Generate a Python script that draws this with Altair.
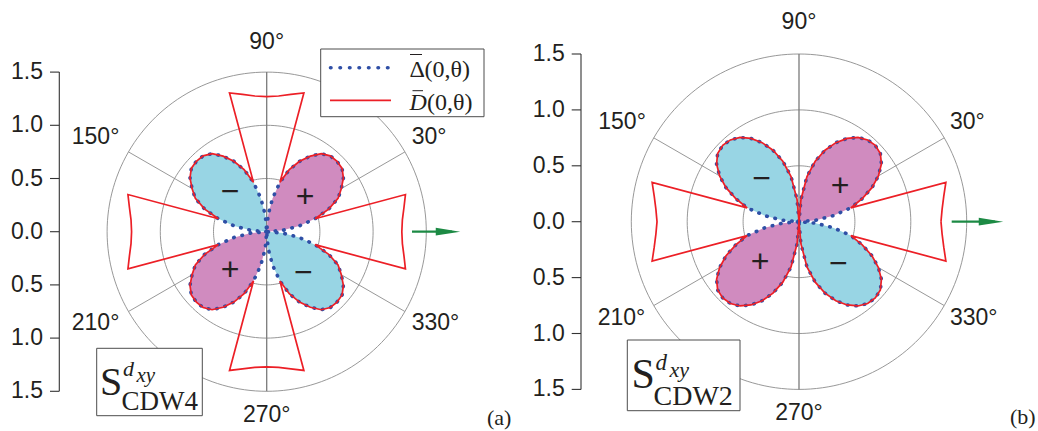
import altair as alt
import pandas as pd

# ---------------- data ----------------
ANGLES_Q1 = [0, 5, 10, 15, 20, 25, 30, 35, 40, 45, 50, 55, 60, 65, 70, 75, 80, 85, 90]
# |Delta(0,theta)| in the first quadrant (other lobes are mirror images)
DELTA_A_Q1 = [0.00, 0.15, 0.31, 0.47, 0.62, 0.74, 0.81, 0.88, 0.925, 0.935,
              0.93, 0.895, 0.82, 0.73, 0.62, 0.48, 0.32, 0.16, 0.00]
DELTA_B_Q1 = [0.00, 0.15, 0.31, 0.48, 0.60, 0.72, 0.82, 0.90, 0.95, 0.965,
              0.955, 0.92, 0.86, 0.78, 0.68, 0.56, 0.41, 0.20, 0.00]
# |D(0,theta)| near the nodes (degrees away from the axis -> radius)
NODE_OFFSETS = [0, 5, 10, 15]
D_A_NODE = [1.27, 1.28, 1.31, 1.35]
D_B_NODE = [1.27, 1.285, 1.315, 1.36]

GRID_RADII = [0.5, 1.0, 1.5]
SPOKE_ANGLES = [30, 150, 210, 330]
AXIS_SPOKE = [90, 270]
TICK_VALUES = [-1.5, -1.0, -0.5, 0.0, 0.5, 1.0, 1.5]
SIGN_TEXT = ["+", "\u2212", "+", "\u2212"]
LEGEND_LABELS = ["\u0394", "(0,\u03b8)", "D", "(0,\u03b8)"]

# ---------------- styling ----------------
W, H = 1038, 431
MAGENTA = "#d08bbf"
CYAN = "#98d5e4"
BLUE = "#2f4fa6"
RED = "#ec1f26"
GREEN = "#1c8a44"
GRID = "#8c8c8c"
INK = "#231f20"
SANS = "Liberation Sans"
SERIF = "Liberation Serif"

POLAR = dict(x="datum.r*cos(datum.theta*PI/180)", y="datum.r*sin(datum.theta*PI/180)")
ONE = pd.DataFrame({"k": [0]})


def mirror(q1):
    q2 = [(180 - a, r) for a, r in reversed(q1)]
    q3 = [(180 + a, r) for a, r in q1]
    q4 = [(360 - a, r) for a, r in reversed(q1)]
    return [q1, q2, q3, q4]


def ptext(t, x, y, size, font=SERIF, style="normal", align="left"):
    return alt.Chart(ONE).mark_text(text=t, font=font, fontSize=size, fontStyle=style,
                                    align=align, baseline="alphabetic", color=INK).encode(
        x=alt.value(x), y=alt.value(y))


def prule(x0, x1, y, color=INK, width=1.0):
    return alt.Chart(ONE).mark_rule(stroke=color, strokeWidth=width).encode(
        x=alt.value(x0), x2=alt.value(x1), y=alt.value(y))


def build_panel(cfg):
    cx, cy, s = cfg["cx"], cfg["cy"], cfg["s"]
    xs = alt.Scale(domain=[-cx / s, (W - cx) / s], nice=False, zero=False)
    ys = alt.Scale(domain=[(cy - H) / s, cy / s], nice=False, zero=False)
    X = alt.X("x:Q", scale=xs, axis=None)
    Y = alt.Y("y:Q", scale=ys, axis=None)

    # grid rings
    ring_rows = [dict(ring=r, theta=t, r=r) for r in GRID_RADII for t in range(0, 361, 2)]
    rings = alt.Chart(pd.DataFrame(ring_rows)).transform_calculate(**POLAR).mark_line(
        stroke=GRID, strokeWidth=0.9).encode(X, Y, detail="ring:N", order="theta:Q")

    spoke_rows = []
    for a in SPOKE_ANGLES:
        spoke_rows += [dict(sp=a, i=0, theta=a, r=0.0), dict(sp=a, i=1, theta=a, r=1.5)]
    spokes = alt.Chart(pd.DataFrame(spoke_rows)).transform_calculate(**POLAR).mark_line(
        stroke=GRID, strokeWidth=0.9).encode(X, Y, detail="sp:N", order="i:Q")
    vrows = [dict(i=0, theta=AXIS_SPOKE[0], r=1.5), dict(i=1, theta=AXIS_SPOKE[1], r=1.5)]
    vspoke = alt.Chart(pd.DataFrame(vrows)).transform_calculate(**POLAR).mark_line(
        stroke="#7a7a7a", strokeWidth=1.3).encode(X, Y, order="i:Q")

    # Delta lobes
    q1 = list(zip(ANGLES_Q1, cfg["delta"]))
    lobe_rows = []
    n = 0
    for k, quad in enumerate(mirror(q1)):
        for a, r in quad:
            lobe_rows.append(dict(lobe=k, i=n, theta=a, r=r,
                                  sign="pos" if k % 2 == 0 else "neg"))
            n += 1
    lobes_df = pd.DataFrame(lobe_rows)
    fills = alt.Chart(lobes_df).transform_calculate(**POLAR).mark_line(
        filled=True, strokeOpacity=0).encode(
        X, Y, detail="lobe:N", order="i:Q",
        color=alt.Color("sign:N", scale=alt.Scale(domain=["pos", "neg"], range=[MAGENTA, CYAN]),
                        legend=None))
    dotted = alt.Chart(lobes_df).transform_calculate(**POLAR).mark_line(
        stroke=BLUE, strokeWidth=3.6, strokeDash=[0.5, 8], strokeCap="round").encode(
        X, Y, order="i:Q")

    # D curve
    node = list(zip(NODE_OFFSETS, cfg["node"]))
    jump = NODE_OFFSETS[-1]
    d_q1 = [(a, r) for a, r in node]
    if cfg["both"]:
        d_q1 += [(a, r) for a, r in q1 if jump <= a <= 90 - jump]
        d_q1 += [(90 - a, r) for a, r in reversed(node)]
    else:
        d_q1 += [(a, r) for a, r in q1 if a >= jump]
    d_rows = []
    n = 0
    for quad in mirror(d_q1):
        for a, r in quad:
            d_rows.append(dict(i=n, theta=a, r=r))
            n += 1
    dline = alt.Chart(pd.DataFrame(d_rows)).transform_calculate(**POLAR).mark_line(
        stroke=RED, strokeWidth=1.7, strokeJoin="miter").encode(X, Y, order="i:Q")

    # signs
    sign_df = pd.DataFrame({"x": [p[0] for p in cfg["signs"]],
                            "y": [p[1] for p in cfg["signs"]],
                            "t": SIGN_TEXT})
    signs = alt.Chart(sign_df).mark_text(font=SANS, fontSize=32, color=INK,
                                         baseline="middle").encode(X, Y, text="t:N")

    # angle labels
    lab_layers = []
    for align, items in cfg["labels"].items():
        ldf = pd.DataFrame({"x": [it[1] for it in items], "y": [it[2] for it in items],
                            "t": [it[0] for it in items]})
        lab_layers.append(alt.Chart(ldf).mark_text(
            font=SANS, fontSize=23, color=INK, align=align, baseline="middle").encode(
            X, Y, text="t:N"))

    # radial axis on the left (ticks through the y scale)
    ax = cfg["axis_x"]
    tdf = pd.DataFrame({"y": TICK_VALUES})
    Yt = alt.Y("y:Q", scale=ys, axis=None)
    axis_line = alt.Chart(pd.DataFrame({"y0": [TICK_VALUES[0]], "y1": [TICK_VALUES[-1]]})
                          ).mark_rule(stroke="#333333", strokeWidth=1.1).encode(
        x=alt.value(ax), y=alt.Y("y0:Q", scale=ys, axis=None), y2="y1:Q")
    ticks = alt.Chart(tdf).mark_rule(stroke="#333333", strokeWidth=1.1).encode(
        x=alt.value(ax - 9.3), x2=alt.value(ax), y=Yt)
    tlabels = alt.Chart(tdf).transform_calculate(
        lab="format(abs(datum.y), '.1f')").mark_text(
        font=SANS, fontSize=23, color=INK, align="right", baseline="middle").encode(
        x=alt.value(ax - 16.3), y=Yt, text="lab:N")

    # arrow
    ax0, ax1, ay = cfg["arrow"]
    arrow_line = prule(ax0, ax1 - 8, ay, GREEN, 2.2)
    arrow_head = alt.Chart(ONE).mark_point(
        shape="M -1 -0.32 L 1 0 L -1 0.32 Z", filled=True, color=GREEN, opacity=1,
        size=600).encode(x=alt.value(ax1 - 12), y=alt.value(ay))

    # label box
    bx0, by0, bx1, by1 = cfg["box"]
    box = alt.Chart(ONE).mark_rect(fill="white", stroke="#4d4d4d", strokeWidth=1).encode(
        x=alt.value(bx0), x2=alt.value(bx1), y=alt.value(by0), y2=alt.value(by1))
    txt = [ptext(t, xx, yy, size, style=style) for t, xx, yy, size, style in cfg["boxtext"]]
    tag = ptext(cfg["letter"][0], cfg["letter"][1], cfg["letter"][2], 22)

    layers = [rings, spokes, vspoke, fills, dotted, dline, signs] + lab_layers + \
             [axis_line, ticks, tlabels, arrow_line, arrow_head, box] + txt + [tag]

    if cfg.get("legend"):
        lg = alt.Chart(ONE).mark_rect(fill="white", stroke="#4d4d4d", strokeWidth=1).encode(
            x=alt.value(320.7), x2=alt.value(484), y=alt.value(49), y2=alt.value(116.7))
        l1 = alt.Chart(ONE).mark_rule(stroke=BLUE, strokeWidth=3.6, strokeDash=[0.5, 9],
                                      strokeCap="round").encode(
            x=alt.value(330.5), x2=alt.value(389), y=alt.value(67.7))
        l2 = prule(330, 391, 100.3, RED, 1.7)
        t1 = ptext(LEGEND_LABELS[0], 409.5, 76.5, 24)
        b1 = prule(410, 422, 54.5, INK, 1.0)
        t2 = ptext(LEGEND_LABELS[1], 424.5, 76.5, 24)
        t3 = ptext(LEGEND_LABELS[2], 409.5, 109.5, 24, style="italic")
        b3 = prule(412.5, 423, 90.7, INK, 1.0)
        t4 = ptext(LEGEND_LABELS[3], 427, 109.5, 24)
        layers += [lg, l1, l2, t1, b1, t2, t3, b3, t4]

    return alt.layer(*layers)


PANEL_A = dict(
    cx=266.7, cy=231.7, s=106.4, axis_x=59.3, delta=DELTA_A_Q1, node=D_A_NODE, both=True,
    signs=[(0.36, 0.33), (-0.345, 0.376), (-0.345, -0.36), (0.344, -0.385)],
    labels={"center": [("90°", 0, 1.786), ("270°", 0, -1.72)],
            "left": [("30°", 1.363, 0.89), ("330°", 1.363, -0.86)],
            "right": [("150°", -1.385, 0.89), ("210°", -1.385, -0.86)]},
    arrow=(412, 460, 231.7),
    box=(96.7, 348.3, 202.3, 415.7),
    boxtext=[("S", 100, 394.5, 40, "normal"), ("d", 123, 375.5, 22, "italic"),
             ("xy", 136.5, 381.5, 21, "italic"), ("CDW4", 121.5, 410, 27, "normal")],
    letter=("(a)", 487, 424.5),
    legend=True,
)
PANEL_B = dict(
    cx=799.0, cy=221.7, s=111.8, axis_x=581.0, delta=DELTA_B_Q1, node=D_B_NODE, both=False,
    signs=[(0.367, 0.319), (-0.334, 0.379), (-0.349, -0.358), (0.352, -0.378)],
    labels={"center": [("90°", 0, 1.79), ("270°", 0, -1.71)],
            "left": [("30°", 1.35, 0.894), ("330°", 1.35, -0.864)],
            "right": [("150°", -1.37, 0.894), ("210°", -1.375, -0.864)]},
    arrow=(951.7, 1003, 221.7),
    box=(627.3, 340, 740, 410.7),
    boxtext=[("S", 631.5, 388, 42, "normal"), ("d", 655.5, 370, 23, "italic"),
             ("xy", 669.5, 376.5, 22, "italic"), ("CDW2", 653.5, 405, 28, "normal")],
    letter=("(b)", 1010, 424),
)

chart = alt.layer(build_panel(PANEL_A), build_panel(PANEL_B)).resolve_scale(
    x="independent", y="independent").properties(
    width=W, height=H, padding=0, autosize=alt.AutoSizeParams(type="none"),
    background="white").configure_view(stroke=None)

chart.save("out.html", embed_options={"renderer": "svg", "actions": False})
